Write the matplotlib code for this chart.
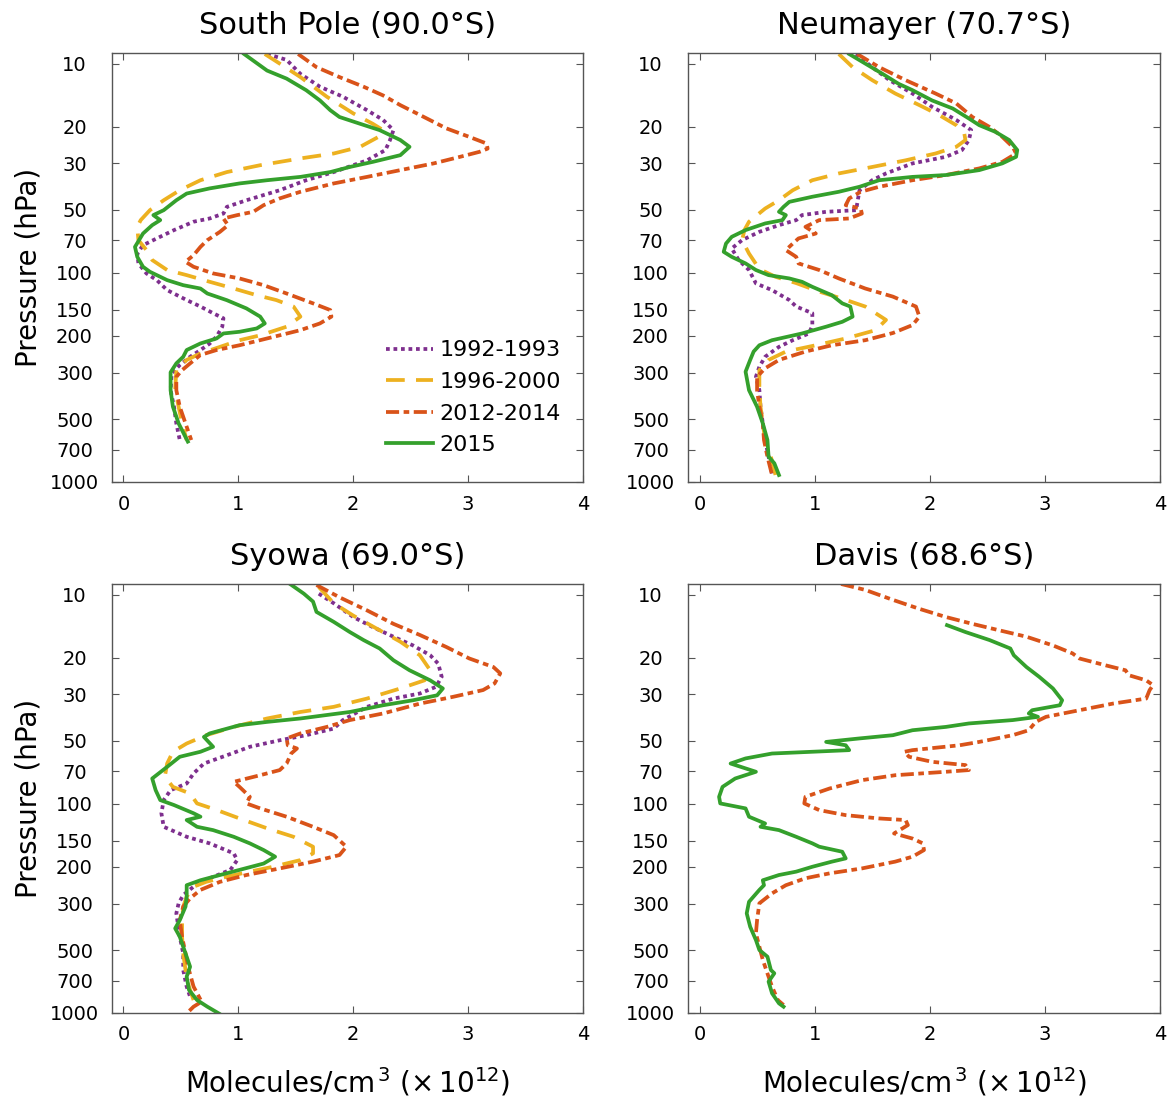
import matplotlib
matplotlib.use("Agg")
import matplotlib.pyplot as plt

# colours of the four periods
C_9293 = '#7E2F8E'
C_9600 = '#EDB120'
C_1214 = '#D95319'
C_2015 = '#34A02C'

LABELS = ['1992-1993', '1996-2000', '2012-2014', '2015']
TITLES = ['South Pole (90.0°S)', 'Neumayer (70.7°S)', 'Syowa (69.0°S)', 'Davis (68.6°S)']
P_TICKS = [10, 20, 30, 50, 70, 100, 150, 200, 300, 500, 700, 1000]
X_TICKS = [0, 1, 2, 3, 4]

# ---- South Pole ----
SP_P_9293 = [9.0, 9.6, 11.2, 12.9, 14.4, 16.7, 18.6, 20.8, 23.2, 25.9, 29.0, 33.0, 36.1, 40.3, 45.0, 48.4, 52.1, 55.0,
             57.0, 62.5, 68.5, 73.8, 80.9, 90.2, 100.7, 108.4, 121, 135, 145, 156, 165, 181, 202, 218, 234, 252, 276,
             303, 364, 437, 525, 630]
SP_X_9293 = [1.25, 1.42, 1.54, 1.71, 1.91, 2.12, 2.26, 2.35, 2.32, 2.28, 2.12, 1.83, 1.59, 1.36, 1.07, 0.90, 0.87, 0.75,
             0.61, 0.44, 0.29, 0.17, 0.12, 0.13, 0.20, 0.29, 0.38, 0.55, 0.67, 0.78, 0.87, 0.86, 0.81, 0.75, 0.67, 0.58,
             0.49, 0.42, 0.41, 0.44, 0.46, 0.49]
SP_P_9600 = [9.0, 10, 11.6, 14.4, 17.3, 19.4, 20.8, 22.4, 25.0, 26.9, 28.4, 30.6, 33.0, 36.1, 40.3, 45.0, 50.2, 56.0,
             60.3, 69.8, 77.9, 86.9, 97, 102.6, 110.4, 118.9, 128, 135, 145, 162, 181, 199, 210, 226, 243, 261, 292,
             364, 437, 525, 630]
SP_X_9600 = [1.23, 1.36, 1.54, 1.77, 2.0, 2.17, 2.26, 2.22, 2.06, 1.83, 1.54, 1.19, 0.90, 0.67, 0.49, 0.35, 0.23, 0.15,
             0.12, 0.13, 0.20, 0.25, 0.38, 0.55, 0.75, 0.96, 1.16, 1.33, 1.48, 1.54, 1.42, 1.19, 1.01, 0.84, 0.67, 0.55,
             0.46, 0.45, 0.48, 0.51, 0.55]
SP_P_1214 = [9.0, 10.4, 11.6, 12.9, 14.2, 15.8, 17.6, 20.4, 22.4, 24.1, 25.5, 26.4, 27.9, 30.0, 32.3, 34.8, 37.4, 41.0,
             44.1, 47.5, 51.1, 53.0, 55.0, 59.2, 63.7, 69.8, 75.2, 82.4, 88.6, 93.6, 100.7, 106.4, 114.6, 125.6, 140,
             150.7, 162, 174.6, 188, 206, 222, 234, 247, 271, 292, 314, 364, 437, 525, 630]
SP_X_1214 = [1.52, 1.68, 1.88, 2.09, 2.26, 2.41, 2.58, 2.81, 3.01, 3.16, 3.17, 3.10, 2.93, 2.70, 2.41, 2.12, 1.83, 1.54,
             1.36, 1.22, 1.13, 0.99, 0.87, 0.91, 0.84, 0.73, 0.67, 0.61, 0.54, 0.61, 0.78, 1.01, 1.22, 1.42, 1.65,
             1.80, 1.81, 1.71, 1.54, 1.25, 1.01, 0.81, 0.67, 0.58, 0.51, 0.46, 0.46, 0.49, 0.54, 0.59]
SP_P_2015 = [9.0, 10.8, 11.8, 13.4, 15.0, 16.7, 18.0, 19.4, 20.8, 23.2, 25.0, 27.4, 29.5, 31.2, 33.0, 34.8, 36.1, 37.4,
             39.5, 41.8, 45.0, 50.2, 53.0, 56.0, 59.2, 64.9, 75.2, 83.9, 93.6, 98.9, 102.6, 108.4, 114.6, 118.9, 125.6,
             135.2, 148, 162, 174.6, 184.5, 191.4, 195, 206, 217.6, 234, 252, 271, 299, 364, 436, 525, 641]
SP_X_2015 = [1.05, 1.25, 1.42, 1.59, 1.71, 1.80, 1.88, 2.06, 2.23, 2.41, 2.49, 2.41, 2.17, 1.97, 1.80, 1.54, 1.25, 1.01,
             0.75, 0.55, 0.46, 0.35, 0.26, 0.32, 0.25, 0.17, 0.10, 0.12, 0.17, 0.23, 0.29, 0.38, 0.52, 0.67, 0.73,
             0.90, 1.07, 1.19, 1.23, 1.16, 1.01, 0.87, 0.81, 0.67, 0.55, 0.52, 0.46, 0.41, 0.41, 0.43, 0.48, 0.56]

# ---- Neumayer ----
NM_P_9293 = [9.0, 10.4, 12.0, 13.9, 16.1, 18.6, 20.8, 23.2, 25.9, 27.9, 30.0, 33.5, 36.1, 40.3, 46.6, 50.2, 51.1, 53.0,
             56.0, 59.2, 63.7, 69.8, 76.5, 86.9, 97, 112.4, 121, 135, 145, 156, 179, 195, 210, 226, 252, 281, 314, 364,
             437, 525, 630, 757, 910]
NM_X_9293 = [1.36, 1.50, 1.65, 1.85, 2.02, 2.23, 2.36, 2.34, 2.28, 2.14, 1.85, 1.62, 1.50, 1.39, 1.37, 1.36, 1.10, 0.89,
             0.84, 0.69, 0.52, 0.37, 0.28, 0.34, 0.43, 0.49, 0.63, 0.78, 0.84, 0.98, 0.98, 0.95, 0.81, 0.69, 0.57, 0.52,
             0.49, 0.52, 0.53, 0.55, 0.57, 0.60, 0.63]
NM_P_9600 = [9.0, 10.4, 12.0, 13.9, 15.8, 17.6, 19.7, 21.6, 23.2, 25.0, 26.9, 29.0, 31.2, 33.5, 36.1, 40.3, 45.0, 49.3,
             53.0, 57.0, 62.5, 69.8, 80.9, 96, 104.5, 112, 123, 133, 145, 168, 188, 206, 222, 238, 261, 292, 364, 437,
             525, 630, 757, 926]
NM_X_9600 = [1.21, 1.33, 1.50, 1.70, 1.91, 2.08, 2.23, 2.30, 2.31, 2.23, 2.05, 1.79, 1.50, 1.21, 0.98, 0.81, 0.69, 0.57,
             0.50, 0.43, 0.39, 0.37, 0.43, 0.52, 0.66, 0.84, 1.04, 1.24, 1.44, 1.62, 1.53, 1.27, 1.01, 0.75, 0.60, 0.52,
             0.52, 0.53, 0.55, 0.57, 0.62, 0.66]
NM_P_1214 = [9.0, 10.4, 12.0, 13.9, 15.5, 18.0, 20.1, 22.4, 25.0, 26.9, 29.5, 31.7, 34.1, 36.1, 38.8, 41.0, 44.1, 47.5,
             49.3, 52.1, 55.0, 56.0, 60.3, 64.9, 68.5, 72.5, 77.9, 83.9, 90.2, 97, 106.4, 118.9, 130, 145, 162, 177.8,
             194, 210, 222, 238, 261, 286, 314, 364, 437, 525, 630, 757, 926]
NM_X_1214 = [1.37, 1.56, 1.79, 2.05, 2.23, 2.37, 2.52, 2.63, 2.72, 2.75, 2.63, 2.43, 2.14, 1.85, 1.56, 1.40, 1.30, 1.27,
             1.40, 1.41, 1.30, 1.04, 0.92, 1.01, 0.86, 0.81, 0.75, 0.84, 0.86, 1.04, 1.21, 1.44, 1.68, 1.88, 1.91, 1.85,
             1.68, 1.44, 1.15, 0.92, 0.69, 0.57, 0.50, 0.50, 0.52, 0.55, 0.56, 0.59, 0.63]
NM_P_2015 = [9.0, 10, 11.2, 12.5, 13.4, 15.0, 16.4, 18.3, 19.7, 21.2, 23.2, 25.9, 27.9, 30, 32.3, 34.1, 34.8, 36.1, 38.8,
             41.0, 43.3, 45.8, 48.4, 51.1, 53.0, 56.0, 58.1, 62.5, 67.3, 72.5, 79.4, 83.9, 90.2, 97, 102.6, 106.4, 110.4,
             116.7, 128, 140, 145, 162, 171.5, 181, 195, 210, 222, 238, 261, 297, 364, 437, 525, 630, 757, 814, 926]
NM_X_2015 = [1.30, 1.44, 1.59, 1.73, 1.85, 2.02, 2.20, 2.34, 2.43, 2.57, 2.69, 2.76, 2.75, 2.63, 2.43, 2.14, 1.85, 1.56,
             1.39, 1.21, 0.98, 0.78, 0.73, 0.69, 0.75, 0.72, 0.57, 0.40, 0.28, 0.23, 0.21, 0.28, 0.40, 0.49, 0.60, 0.78,
             0.89, 0.98, 1.15, 1.24, 1.31, 1.33, 1.24, 1.10, 0.89, 0.63, 0.52, 0.47, 0.44, 0.40, 0.43, 0.50, 0.55, 0.59,
             0.60, 0.65, 0.69]

# ---- Syowa ----
SY_P_9293 = [9.9, 11.0, 12.8, 14.3, 15.9, 17.5, 19.5, 21.4, 24.7, 27.6, 29.7, 31.4, 34.4, 39.8, 43.7, 47.0, 49.7, 53.4,
             58.6, 64.2, 71.6, 80.0, 86.1, 96, 111, 128.8, 143.8, 154.6, 172.6, 185.8, 207, 227, 249, 273, 299, 334,
             432, 519, 623, 748, 836]
SY_X_9293 = [1.70, 1.83, 2.0, 2.17, 2.35, 2.52, 2.67, 2.74, 2.77, 2.72, 2.58, 2.35, 2.12, 1.91, 1.83, 1.59, 1.36, 1.10,
             0.90, 0.70, 0.61, 0.55, 0.41, 0.35, 0.33, 0.35, 0.55, 0.75, 0.96, 0.99, 0.93, 0.75, 0.61, 0.52, 0.48, 0.46,
             0.49, 0.52, 0.52, 0.55, 0.58]
SY_P_9600 = [9.2, 11.0, 12.6, 14.5, 16.8, 19.5, 23.0, 25.7, 28.1, 31.4, 34.4, 36.4, 39.1, 42.9, 47.0, 51.5, 56.4, 64.2,
             74.3, 83.0, 89.3, 99.6, 107, 117.5, 131, 143.8, 160.4, 172.6, 185.8, 200, 211, 223, 236, 249, 278, 310,
             360, 432, 519, 623, 748, 867]
SY_X_9600 = [1.70, 1.83, 2.0, 2.20, 2.41, 2.58, 2.67, 2.62, 2.41, 2.12, 1.83, 1.54, 1.25, 0.96, 0.72, 0.55, 0.43, 0.38,
             0.36, 0.43, 0.58, 0.64, 0.81, 1.01, 1.25, 1.48, 1.65, 1.65, 1.54, 1.30, 1.10, 0.90, 0.72, 0.61, 0.55, 0.52,
             0.51, 0.51, 0.52, 0.54, 0.57, 0.61]
SY_P_1214 = [9.0, 10.3, 11.9, 13.8, 15.6, 17.8, 20.2, 22.2, 23.8, 26.6, 28.6, 30.8, 33.2, 37.0, 39.8, 42.9, 46.1, 48.7,
             52.5, 54.4, 57.5, 64.2, 69.0, 73.0, 78.5, 83.0, 92.6, 99.6, 105.2, 115.3, 128.8, 141.2, 160.4, 175.8, 189,
             203.7, 219, 236, 258, 283, 310, 360, 432, 519, 623, 748, 883, 933, 1005]
SY_X_1214 = [1.68, 1.88, 2.12, 2.35, 2.58, 2.81, 3.01, 3.22, 3.28, 3.23, 3.13, 2.87, 2.58, 2.26, 1.97, 1.77, 1.54, 1.42,
             1.43, 1.51, 1.46, 1.42, 1.36, 1.19, 0.96, 1.01, 1.10, 1.07, 1.19, 1.42, 1.65, 1.83, 1.94, 1.88, 1.65, 1.36,
             1.07, 0.84, 0.67, 0.58, 0.52, 0.49, 0.51, 0.54, 0.57, 0.61, 0.68, 0.61, 0.55]
SY_P_2015 = [8.9, 9.9, 10.8, 12.1, 13.5, 15.1, 16.5, 18.1, 20.6, 23.0, 25.7, 28.1, 30.3, 32.0, 33.8, 36.4, 39.1, 40.6,
             42.1, 46.1, 47.9, 53.4, 56.4, 59.6, 66.6, 75.7, 86.1, 96, 101.4, 111, 115.3, 119.6, 128.8, 133.6, 143.8,
             154.6, 166.4, 179, 193, 207, 219, 232, 245, 278, 310, 360, 394, 432, 519, 601, 670, 776, 867, 933, 1005]
SY_X_2015 = [1.45, 1.57, 1.65, 1.68, 1.83, 1.97, 2.09, 2.23, 2.35, 2.49, 2.67, 2.78, 2.73, 2.52, 2.26, 1.97, 1.54, 1.25,
             1.01, 0.75, 0.70, 0.78, 0.67, 0.49, 0.38, 0.25, 0.28, 0.32, 0.44, 0.61, 0.67, 0.55, 0.64, 0.78, 0.96, 1.10,
             1.22, 1.32, 1.22, 1.01, 0.84, 0.67, 0.55, 0.55, 0.54, 0.49, 0.45, 0.49, 0.54, 0.58, 0.55, 0.57, 0.64, 0.73,
             0.83]

# ---- Davis (only 2012-2014 and 2015) ----
DV_P_1214 = [8.9, 9.5, 10.6, 11.7, 12.8, 13.8, 14.8, 15.9, 17.5, 19.1, 20.2, 21.8, 23.0, 24.3, 25.7, 27.1, 28.6, 31.4,
             33.2, 35.7, 38.4, 40.6, 44.5, 47.0, 50.6, 52.5, 55.4, 56.4, 59.6, 63.0, 65.3, 69.0, 70.3, 73.0, 77.1, 84.5,
             92.6, 99.6, 107.2, 113.3, 117.5, 119.6, 126.4, 138.6, 146.6, 154.6, 166.4, 179, 189, 203.7, 215, 227, 245,
             268, 299, 360, 416, 482, 558, 647, 748, 867, 916]
DV_X_1214 = [1.23, 1.44, 1.68, 1.91, 2.14, 2.37, 2.60, 2.84, 3.07, 3.24, 3.30, 3.53, 3.70, 3.73, 3.88, 3.94, 3.91, 3.88,
             3.59, 3.30, 3.01, 2.92, 2.86, 2.72, 2.43, 2.26, 1.85, 1.78, 1.82, 2.02, 2.31, 2.34, 2.14, 1.70, 1.41, 1.13,
             0.92, 0.91, 1.04, 1.27, 1.56, 1.79, 1.81, 1.69, 1.85, 1.94, 1.95, 1.85, 1.70, 1.41, 1.13, 0.92, 0.75, 0.63,
             0.52, 0.50, 0.49, 0.52, 0.55, 0.59, 0.63, 0.68, 0.73]
DV_P_2015 = [14.0, 15.1, 16.5, 18.1, 19.5, 22.2, 24.7, 28.1, 32.0, 33.8, 35.7, 37.0, 38.4, 39.8, 41.3, 42.9, 44.5, 47.0,
             48.7, 50.6, 52.5, 55.4, 56.4, 57.5, 60.7, 64.2, 70.3, 75.7, 83.0, 92.6, 99.6, 105.2, 115.3, 124.2, 128.8,
             133.6, 143.8, 154.6, 160.4, 169.5, 182.4, 189, 200, 211, 219, 232, 245, 258, 294, 334, 387, 448, 500, 538,
             623, 646, 708, 805, 899, 933]
DV_X_2015 = [2.15, 2.31, 2.52, 2.70, 2.73, 2.84, 2.95, 3.07, 3.15, 3.13, 2.89, 2.86, 2.94, 2.72, 2.34, 2.14, 1.85, 1.68,
             1.39, 1.10, 1.27, 1.30, 0.98, 0.63, 0.40, 0.27, 0.49, 0.31, 0.20, 0.17, 0.18, 0.40, 0.43, 0.57, 0.53, 0.69,
             0.84, 0.98, 1.04, 1.24, 1.27, 1.15, 0.98, 0.84, 0.69, 0.55, 0.56, 0.52, 0.43, 0.41, 0.44, 0.49, 0.52, 0.59,
             0.62, 0.65, 0.60, 0.63, 0.69, 0.73]

# line styles per period
STYLES = {
    '1992-1993': dict(color=C_9293, linestyle=(0, (1, 1))),
    '1996-2000': dict(color=C_9600, linestyle=(0, (5, 3))),
    '2012-2014': dict(color=C_1214, linestyle=(0, (3.5, 1.2, 1.5, 1.2))),
    '2015': dict(color=C_2015, linestyle='-'),
}

panels = [
    [(SP_X_9293, SP_P_9293), (SP_X_9600, SP_P_9600), (SP_X_1214, SP_P_1214), (SP_X_2015, SP_P_2015)],
    [(NM_X_9293, NM_P_9293), (NM_X_9600, NM_P_9600), (NM_X_1214, NM_P_1214), (NM_X_2015, NM_P_2015)],
    [(SY_X_9293, SY_P_9293), (SY_X_9600, SY_P_9600), (SY_X_1214, SY_P_1214), (SY_X_2015, SY_P_2015)],
    [None, None, (DV_X_1214, DV_P_1214), (DV_X_2015, DV_P_2015)],
]

W, H = 1172, 1102
fig = plt.figure(figsize=(W / 100, H / 100), dpi=100)

# axes boxes in pixels: left, top, right, bottom
boxes = [(112, 53, 583, 482), (688, 53, 1160, 482), (112, 584, 583, 1013), (688, 584, 1160, 1013)]
frame_col = '#555555'

axes = []
for i, (l, t, r, b) in enumerate(boxes):
    ax = fig.add_axes([l / W, 1 - b / H, (r - l) / W, (b - t) / H])
    for j, series in enumerate(panels[i]):
        if series is None:
            continue
        xs, ps = series
        ax.plot(xs, ps, lw=2.7, label=LABELS[j], **STYLES[LABELS[j]])
    ax.set_yscale('log')
    ax.set_ylim(1000, 8.9)
    ax.set_xlim(-0.1, 4)
    ax.set_yticks(P_TICKS)
    ax.set_yticklabels([str(p) for p in P_TICKS])
    ax.yaxis.set_minor_locator(matplotlib.ticker.NullLocator())
    ax.set_xticks(X_TICKS)
    ax.tick_params(axis='both', direction='in', top=True, right=True, length=5, width=0.8,
                   color=frame_col, labelsize=14)
    ax.tick_params(axis='y', pad=27)
    ax.tick_params(axis='x', pad=9)
    for lab in ax.get_yticklabels():
        lab.set_horizontalalignment('center')
    for sp in ax.spines.values():
        sp.set_color(frame_col)
        sp.set_linewidth(1.0)
    ax.set_title(TITLES[i], fontsize=22, pad=14)
    if i in (0, 2):
        ax.set_ylabel('Pressure (hPa)', fontsize=20)
        ax.yaxis.set_label_coords(-0.148, 0.5)
    if i in (2, 3):
        ax.set_xlabel(r'Molecules/cm$^{\,3}$ ($\times\,$10$^{12}$)', fontsize=20)
        ax.xaxis.set_label_coords(0.5, -0.122)
    axes.append(ax)

axes[0].legend(loc='upper left', bbox_to_anchor=(0.582, 0.33), frameon=False, fontsize=16,
               handlelength=2.1, handletextpad=0.3, labelspacing=0.52, borderpad=0, borderaxespad=0)

fig.savefig('out.png', dpi=100)
